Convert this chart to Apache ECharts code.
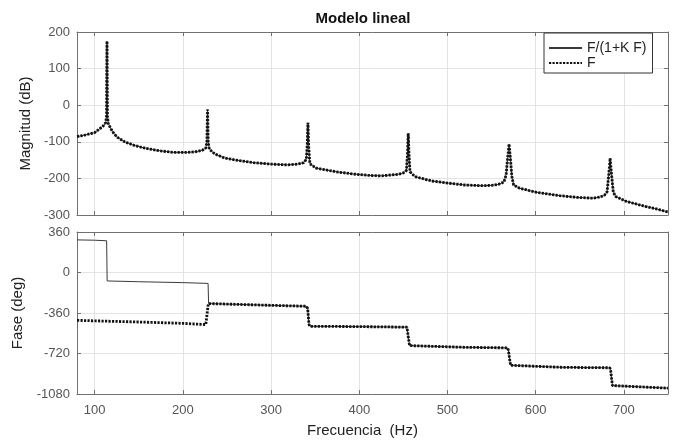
<!DOCTYPE html>
<html>
<head>
<meta charset="utf-8">
<script src="https://cdn.jsdelivr.net/npm/echarts@6/dist/echarts.min.js"></script>
<style>
html,body{margin:0;padding:0;background:#fff;}
#chart{width:675px;height:443px;}
</style>
</head>
<body>
<div id="chart"></div>
<script>
// ---------- data ----------
const titleText = 'Modelo lineal';
const seriesNames = ['F/(1+K F)', 'F'];
const xName = 'Frecuencia  (Hz)';
const magName = 'Magnitud (dB)';
const phaseName = 'Fase (deg)';

const xTicks = [100, 200, 300, 400, 500, 600, 700];
const magTicks = [-300, -200, -100, 0, 100, 200];
const phaseTicks = [-1080, -720, -360, 0, 360];

// magnitude (both curves coincide in the picture)
const freqMag = [80, 90, 100, 106, 110, 112.5, 113.5, 114, 114.5, 115.5, 118, 122, 126, 134, 145, 155, 165, 175, 190, 205, 215, 222, 226, 227.3, 228, 228.7, 230, 236, 247, 260, 280, 300, 318, 330, 337, 340, 341, 341.8, 342.6, 344, 351, 374, 393, 412, 425, 444, 450, 453.5, 454.5, 455.5, 456.5, 457.5, 463, 482, 501, 520, 539, 550, 558, 564, 566.5, 568, 569.8, 571.5, 573, 575, 582, 601, 627, 647, 665, 673, 678, 681, 682.8, 684.4, 686, 688, 691, 703, 722, 741, 750];
const magF = [-86, -81, -75, -64, -56, -48, -30, 175, -30, -50, -63, -78, -88, -100, -110, -116, -121, -125, -129, -129, -127, -123, -117, -100, -12, -100, -120, -133, -144, -150, -157, -161, -163, -161, -157, -148, -110, -48, -110, -160, -172, -182, -188, -192, -193, -189, -185, -178, -140, -77, -140, -182, -195, -207, -213, -218, -220, -219, -216, -210, -190, -150, -106, -150, -195, -218, -227, -238, -247, -252, -254, -251, -246, -236, -190, -145, -190, -238, -250, -263, -275, -286, -292];
const magCL = [-86, -81, -75, -64, -56, -48, -30, 175, -30, -50, -63, -78, -88, -100, -110, -116, -121, -125, -129, -129, -127, -123, -117, -100, -12, -100, -120, -133, -144, -150, -157, -161, -163, -161, -157, -148, -110, -48, -110, -160, -172, -182, -188, -192, -193, -189, -185, -178, -140, -77, -140, -182, -195, -207, -213, -218, -220, -219, -216, -210, -190, -150, -106, -150, -195, -218, -227, -238, -247, -252, -254, -251, -246, -236, -190, -145, -190, -238, -250, -263, -275, -286, -292];

// phase
const freqPhaseF = [80, 100, 150, 200, 226, 227.5, 228.5, 229, 260, 300, 340, 341.5, 343, 344, 400, 454, 455, 457, 458, 520, 568, 569, 571.5, 572.5, 630, 684, 685, 687, 688, 750];
const phaseF = [-425, -430, -440, -452, -463, -455, -300, -276, -283, -292, -300, -320, -460, -478, -481, -486, -500, -650, -663, -665, -670, -690, -825, -841, -843, -847, -870, -1005, -1019, -1028];
const freqPhaseCL = [80, 100, 113.6, 114.2, 150, 200, 228.6, 229.2, 260, 300, 340, 341.5, 343, 344, 400, 454, 455, 457, 458, 520, 568, 569, 571.5, 572.5, 630, 684, 685, 687, 688, 750];
const phaseCL = [290, 287, 282, -75, -82, -90, -97, -276, -283, -292, -300, -320, -460, -478, -481, -486, -500, -650, -663, -665, -670, -690, -825, -841, -843, -847, -870, -1005, -1019, -1028];

// ---------- chart ----------
const zip = (xs, ys) => xs.map((x, i) => [x, ys[i]]);
const FONT = 'Arial, "Liberation Sans", Helvetica, sans-serif';
const labelColor = '#555';
const frameColor = '#707070';
const gridColor = '#e4e4e4';

const grids = [
  {left: 77, right: 7, top: 32, height: 183},
  {left: 77, right: 7, top: 232, height: 162}
];

function xAxis(gi, position, showLabel) {
  return {
    type: 'value', gridIndex: gi, position: position,
    min: 80, max: 750, splitNumber: 7,
    axisLine: {show: true, onZero: false, lineStyle: {color: frameColor, width: 1}},
    axisTick: {show: true, inside: true, length: 4, lineStyle: {color: frameColor}},
    splitLine: {show: position === 'bottom', lineStyle: {color: gridColor, width: 1}},
    axisLabel: {
      show: showLabel, margin: 10, color: labelColor, fontSize: 13, fontFamily: FONT,
      showMinLabel: false, showMaxLabel: false,
      formatter: v => (xTicks.indexOf(v) >= 0 ? String(v) : '')
    },
    name: showLabel ? xName : '',
    nameLocation: 'middle', nameGap: 29,
    nameTextStyle: {fontSize: 15, color: '#222', fontFamily: FONT, padding: [0, 20, 0, 0]}
  };
}
function yAxis(gi, position, ticks, name, showLabel) {
  return {
    type: 'value', gridIndex: gi, position: position,
    min: ticks[0], max: ticks[ticks.length - 1], interval: ticks[1] - ticks[0],
    axisLine: {show: true, onZero: false, lineStyle: {color: frameColor, width: 1}},
    axisTick: {show: true, inside: true, length: 4, lineStyle: {color: frameColor}},
    splitLine: {show: position === 'left', lineStyle: {color: gridColor, width: 1}},
    axisLabel: {show: showLabel, margin: 7, color: labelColor, fontSize: 13, fontFamily: FONT,
      formatter: v => String(v)},
    name: showLabel ? name : '',
    nameLocation: 'middle', nameGap: 40,
    nameTextStyle: {fontSize: 15, color: '#222', fontFamily: FONT}
  };
}

const solidStyle = {color: '#3a3a3a', width: 1, type: 'solid'};
const dotStyle = {color: '#111', width: 2.8, type: [2.2, 1.3]};

const option = {
  animation: false,
  backgroundColor: '#fff',
  title: {
    text: titleText, left: 358, top: 6, textAlign: 'center',
    textStyle: {fontSize: 15, fontWeight: 'bold', color: '#111', fontFamily: FONT}
  },
  legend: {
    data: seriesNames, orient: 'vertical', left: 544, top: 33,
    itemWidth: 33, itemHeight: 10, itemGap: 1,
    padding: [8, 6, 3, 4],
    borderColor: '#333', borderWidth: 1, backgroundColor: '#fff',
    itemStyle: {color: 'rgba(0,0,0,0)', borderWidth: 0, opacity: 0},
    textStyle: {fontSize: 14, color: '#222', fontFamily: FONT, lineHeight: 14}
  },
  grid: grids,
  xAxis: [
    xAxis(0, 'bottom', false),
    xAxis(1, 'bottom', true),
    xAxis(0, 'top', false),
    xAxis(1, 'top', false)
  ],
  yAxis: [
    yAxis(0, 'left', magTicks, magName, true),
    yAxis(1, 'left', phaseTicks, phaseName, true),
    yAxis(0, 'right', magTicks, '', false),
    yAxis(1, 'right', phaseTicks, '', false)
  ],
  series: [
    {name: seriesNames[0], type: 'line', xAxisIndex: 0, yAxisIndex: 0, symbol: 'none',
     lineStyle: solidStyle, itemStyle: {color: solidStyle.color}, data: zip(freqMag, magCL)},
    {name: seriesNames[1], type: 'line', xAxisIndex: 0, yAxisIndex: 0, symbol: 'none',
     lineStyle: dotStyle, itemStyle: {color: dotStyle.color}, data: zip(freqMag, magF)},
    {name: seriesNames[0], type: 'line', xAxisIndex: 1, yAxisIndex: 1, symbol: 'none',
     lineStyle: solidStyle, itemStyle: {color: solidStyle.color}, data: zip(freqPhaseCL, phaseCL)},
    {name: seriesNames[1], type: 'line', xAxisIndex: 1, yAxisIndex: 1, symbol: 'none',
     lineStyle: dotStyle, itemStyle: {color: dotStyle.color}, data: zip(freqPhaseF, phaseF)}
  ]
};

const chart = echarts.init(document.getElementById('chart'), null, {renderer: 'canvas'});
chart.setOption(option);
</script>
</body>
</html>
